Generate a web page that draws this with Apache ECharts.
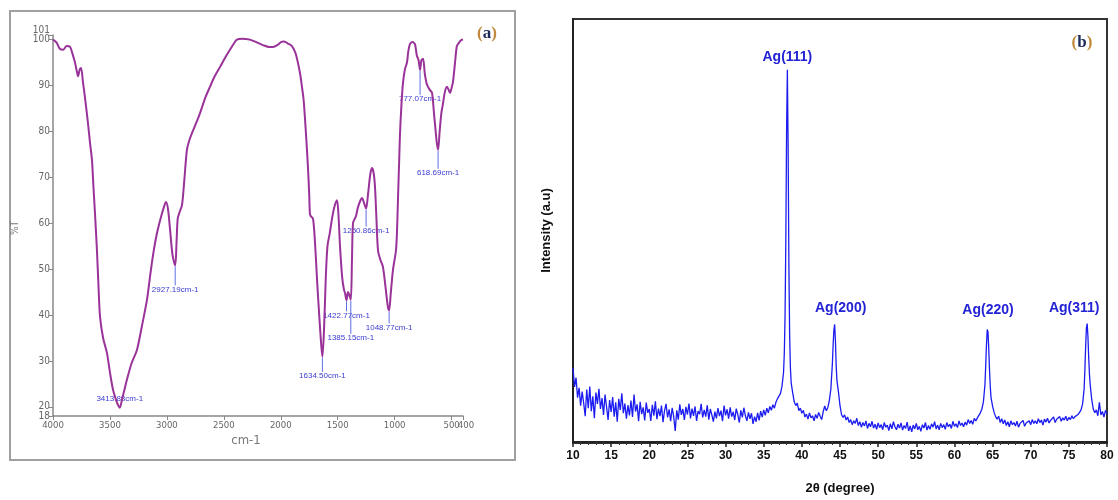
<!DOCTYPE html>
<html><head><meta charset="utf-8">
<script src="https://cdn.jsdelivr.net/npm/echarts/dist/echarts.min.js"></script>
<style>html,body{margin:0;padding:0;background:#fff}#c{width:1118px;height:500px}</style>
</head><body><div id="c"></div>
<script>
// ---------- Panel (a): FTIR spectrum [wavenumber cm-1, %T] ----------
const ftirSpectrum = [
[4000,100],[3970,99.4],[3940,98],[3910,97.8],[3880,98.6],[3850,98.4],[3830,97],[3807,95],[3790,93],[3780,92],
[3765,93.5],[3754,93.8],[3737,90.8],[3715,86.5],[3693,81.8],[3675,77.5],[3658,73.8],[3645,68],[3631,62],[3614,54],
[3600,46],[3587,39.6],[3560,35],[3526,31.7],[3500,27.5],[3473,23.7],[3445,21.4],[3429,20.4],[3413.88,19.8],[3395,21.5],
[3370,24],[3350,26],[3310,29.5],[3263,32.4],[3220,37.5],[3175,43.3],[3150,48],[3122,53],[3090,57.5],[3050,61.5],
[3020,64],[3008,64.6],[2990,63],[2970,58],[2950,53],[2927.19,50.8],[2915,56],[2905,61],[2890,62.3],[2867,64],
[2845,70],[2824,76],[2800,78.3],[2780,79.6],[2740,82],[2709,84],[2660,87.5],[2622,89.7],[2580,92],[2534,94],
[2490,96],[2446,97.8],[2410,99.2],[2385,100],[2340,100.2],[2300,100.1],[2270,100],[2220,99.5],[2156,98.8],[2100,98.4],
[2068,98.4],[2030,98.8],[1995,99.5],[1975,99.6],[1940,99.2],[1902,98.6],[1870,97],[1849,94.9],[1830,92.5],[1814,89.7],
[1800,87],[1788,83],[1775,78],[1761,72],[1750,66],[1744,62],[1735,61.5],[1717,61],[1700,56],[1680,47],
[1660,39],[1645,33.5],[1634.5,30.9],[1620,37],[1605,48],[1590,55],[1570,57.8],[1550,61],[1530,63.5],[1507,65],
[1495,62.5],[1480,55],[1460,48],[1445,45.5],[1436,44.8],[1422.77,43.2],[1410,45],[1400,44.5],[1385.15,43.3],[1375,52],
[1366,60],[1350,61],[1340,61.5],[1322,63.5],[1300,65],[1287,65.5],[1270,64.5],[1250.86,63.2],[1235,66],[1215,70.5],
[1200,72],[1185,71],[1173,68],[1160,61],[1146,54],[1125,52],[1103,50.5],[1080,46],[1059,41.7],[1048.77,41],
[1035,44.5],[1015,49.8],[989,54],[980,57.9],[970,66],[960,74],[953,79.6],[940,86],[927,90.5],[910,93.5],
[892,95],[880,97.5],[866,99],[845,99.5],[822,99],[805,96.5],[790,95.5],[777.07,93.4],[765,95.5],[751,95.8],
[735,92.5],[720,90.5],[707,89.7],[690,89],[672,88.4],[655,84],[640,80],[630,77.5],[618.69,76],[605,80],
[590,84],[576,86],[560,88.5],[541,89.7],[525,89],[514,88.4],[500,89.5],[488,90.8],[470,95],[455,98.5],
[444,99],[420,99.8],[400,100]
];
const ftirPeakWavenumbers = [3413.88, 2927.19, 1634.50, 1422.77, 1385.15, 1250.86, 1048.77, 777.07, 618.69];
const ftirPeakTransmittance = [19.8, 50.8, 30.9, 43.2, 43.3, 63.2, 41, 93.4, 76];
const ftirPeakLabels = ['3413.88cm-1','2927.19cm-1','1634.50cm-1','1422.77cm-1','1385.15cm-1','1250.86cm-1','1048.77cm-1','777.07cm-1','618.69cm-1'];
const ftirXTicksMain = [4000, 3500, 3000, 2500, 2000, 1500, 1000, 500];
const ftirXTicksEnd = [400];
const ftirYTicksMain = [20, 30, 40, 50, 60, 70, 80, 90, 100];
const ftirYTicksLow = [18];
const ftirYTicksHigh = [101];

// ---------- Panel (b): XRD pattern [2theta degree, intensity a.u.] ----------
const xrdPattern = [
[10.0,17.5],[10.2,13.0],[10.4,15.2],[10.6,10.5],[10.8,12.8],[11.0,8.6],[11.2,11.9],[11.4,9.2],[11.6,6.1],[11.8,12.4],
[12.0,8.0],[12.2,13.1],[12.4,7.3],[12.6,10.8],[12.8,5.6],[13.0,11.7],[13.2,9.0],[13.4,12.6],[13.6,7.8],[13.8,10.4],
[14.0,6.4],[14.2,11.2],[14.4,8.3],[14.6,5.2],[14.8,9.9],[15.0,7.1],[15.2,10.6],[15.4,6.0],[15.6,9.4],[15.8,4.8],
[16.0,10.2],[16.2,7.6],[16.4,11.5],[16.6,6.8],[16.8,9.1],[17.0,5.5],[17.2,8.7],[17.4,6.3],[17.6,9.8],[17.8,5.9],
[18.0,11.2],[18.2,7.2],[18.4,8.9],[18.6,4.9],[18.8,9.5],[19.0,6.6],[19.2,8.2],[19.4,5.1],[19.6,9.3],[19.8,6.9],
[20.0,7.8],[20.2,5.0],[20.4,8.8],[20.6,6.2],[20.8,9.6],[21.0,5.4],[21.2,7.9],[21.4,6.1],[21.6,8.6],[21.8,4.7],
[22.0,7.4],[22.2,9.0],[22.4,5.8],[22.6,7.7],[22.8,4.9],[23.0,8.1],[23.2,6.0],[23.4,2.6],[23.6,7.5],[23.8,5.3],
[24.0,8.9],[24.2,6.4],[24.4,7.8],[24.6,5.2],[24.8,8.3],[25.0,6.5],[25.2,9.1],[25.4,5.6],[25.6,7.9],[25.8,6.2],
[26.0,8.4],[26.2,5.0],[26.4,7.3],[26.6,6.6],[26.8,9.0],[27.0,5.8],[27.2,7.6],[27.4,6.0],[27.6,8.7],[27.8,5.3],
[28.0,7.8],[28.2,6.4],[28.4,4.8],[28.6,7.2],[28.8,5.6],[29.0,8.0],[29.2,6.1],[29.4,7.4],[29.6,4.9],[29.8,8.6],
[30.0,6.3],[30.2,7.7],[30.4,5.5],[30.6,8.2],[30.8,6.0],[31.0,7.1],[31.2,5.2],[31.4,7.9],[31.6,6.5],[31.8,4.6],
[32.0,7.5],[32.2,5.8],[32.4,8.1],[32.6,6.2],[32.8,5.0],[33.0,7.0],[33.2,5.5],[33.4,6.8],[33.6,4.3],[33.8,6.0],
[34.0,4.8],[34.2,6.9],[34.4,5.1],[34.6,7.3],[34.8,5.9],[35.0,7.6],[35.2,6.3],[35.4,8.0],[35.6,6.9],[35.8,8.4],
[36.0,7.5],[36.2,8.8],[36.4,8.0],[36.6,9.4],[36.8,10.2],[37.0,10.0],[37.2,11.5],[37.4,13.2],[37.6,16.5],[37.7,21],
[37.8,30],[37.9,48],[38.0,74],[38.1,88],[38.2,70],[38.3,42],[38.4,25],[38.5,17.5],[38.6,14.0],[38.8,11.6],
[39.0,9.5],[39.2,8.6],[39.4,9.2],[39.6,7.4],[39.8,8.0],[40.0,6.8],[40.2,7.5],[40.4,5.9],[40.6,6.6],[40.8,5.4],
[41.0,6.9],[41.2,5.7],[41.4,6.2],[41.6,5.0],[41.8,6.5],[42.0,5.6],[42.2,7.0],[42.4,6.1],[42.6,5.3],[42.8,7.2],
[43.0,8.5],[43.2,7.4],[43.4,8.1],[43.6,9.8],[43.8,12.5],[44.0,18.5],[44.1,23],[44.2,26.5],[44.3,27.8],[44.4,24],
[44.5,18],[44.6,14.5],[44.8,11.8],[45.0,8.6],[45.2,6.5],[45.4,5.8],[45.6,6.4],[45.8,5.2],[46.0,5.9],[46.2,4.6],
[46.4,5.3],[46.6,4.1],[46.8,5.0],[47.0,4.4],[47.2,5.6],[47.4,3.9],[47.6,4.8],[47.8,3.5],[48.0,4.6],[48.2,3.8],
[48.4,5.0],[48.6,3.2],[48.8,4.4],[49.0,3.6],[49.2,4.9],[49.4,3.3],[49.6,4.2],[49.8,3.0],[50.0,4.5],[50.2,3.4],
[50.4,4.1],[50.6,2.9],[50.8,4.6],[51.0,3.5],[51.2,4.0],[51.4,2.7],[51.6,4.3],[51.8,3.1],[52.0,4.8],[52.2,3.6],
[52.4,2.9],[52.6,4.2],[52.8,3.3],[53.0,4.5],[53.2,2.8],[53.4,3.9],[53.6,3.2],[53.8,4.7],[54.0,2.6],[54.2,3.8],
[54.4,2.4],[54.6,4.0],[54.8,3.1],[55.0,4.4],[55.2,2.9],[55.4,3.7],[55.6,2.5],[55.8,4.1],[56.0,3.3],[56.2,4.6],
[56.4,2.8],[56.6,3.9],[56.8,3.0],[57.0,4.3],[57.2,3.5],[57.4,4.8],[57.6,3.1],[57.8,4.0],[58.0,2.9],[58.2,4.4],
[58.4,3.4],[58.6,4.1],[58.8,3.0],[59.0,4.6],[59.2,3.6],[59.4,4.2],[59.6,3.2],[59.8,4.9],[60.0,3.7],[60.2,4.3],
[60.4,3.4],[60.6,5.0],[60.8,3.9],[61.0,4.5],[61.2,3.6],[61.4,4.7],[61.6,4.0],[61.8,5.3],[62.0,4.4],[62.2,5.1],
[62.4,4.2],[62.6,5.6],[62.8,5.0],[63.0,5.4],[63.2,6.3],[63.4,6.9],[63.6,7.8],[63.8,9.5],[64.0,13.5],[64.1,18],
[64.2,23],[64.3,26.6],[64.4,26.0],[64.5,22],[64.6,17],[64.7,13],[64.8,10.5],[65.0,8.5],[65.2,7.0],[65.4,6.0],
[65.6,5.4],[65.8,6.1],[66.0,4.6],[66.2,5.5],[66.4,4.3],[66.6,5.2],[66.8,3.9],[67.0,4.8],[67.2,3.6],[67.4,5.0],
[67.6,4.1],[67.8,4.6],[68.0,3.8],[68.2,4.9],[68.4,3.5],[68.6,4.4],[68.8,4.0],[69.0,5.1],[69.2,3.7],[69.4,4.5],
[69.6,4.2],[69.8,5.0],[70.0,4.1],[70.2,5.3],[70.4,4.4],[70.6,5.0],[70.8,4.3],[71.0,5.5],[71.2,4.6],[71.4,5.2],
[71.6,4.0],[71.8,5.4],[72.0,4.7],[72.2,5.6],[72.4,4.5],[72.6,5.1],[72.8,4.8],[73.0,5.9],[73.2,4.6],[73.4,5.4],
[73.6,5.0],[73.8,6.0],[74.0,4.9],[74.2,5.7],[74.4,5.2],[74.6,6.1],[74.8,5.0],[75.0,5.8],[75.2,5.3],[75.4,6.2],
[75.6,5.5],[75.8,6.0],[76.0,5.6],[76.2,6.5],[76.4,7.0],[76.6,7.6],[76.8,9.0],[77.0,12.5],[77.1,17],[77.2,22.5],
[77.3,27],[77.4,28],[77.5,25],[77.6,20],[77.7,16],[77.8,13.5],[78.0,10.0],[78.2,7.8],[78.4,6.9],[78.6,7.6],
[78.8,6.2],[79.0,9.4],[79.2,6.4],[79.4,7.2],[79.6,5.9],[79.8,7.5],[80.0,6.6]
];
const xrdPeakAngles = [38.1, 44.3, 64.4, 77.4];
const xrdPeakIntensity = [88, 27.8, 26.6, 28];
const xrdPeakLabels = ['Ag(111)', 'Ag(200)', 'Ag(220)', 'Ag(311)'];

// ---------- styling (not data) ----------
const ftirDrop = [-9, 24, 19, 15, 38, 22, 17, 29, 23];    // px offset of label from the minimum
const xrdLabelShift = [[0,-13],[6,-16],[0,-19],[-13,-15]];

const chart = echarts.init(document.getElementById('c'), null, {renderer: 'canvas'});
const grayTxt = '#666';
const narrow = '"Liberation Sans Narrow", "DejaVu Sans Condensed", "Liberation Sans", Arial, sans-serif';
const plain = v => String(v);

function ftirX(ticks, main, pad) {
  return {gridIndex: 0, type: 'value', min: 400, max: 4000, inverse: true, position: 'bottom',
    axisLine: {show: main, onZero: false, lineStyle: {color: '#888', width: 1.5}},
    axisTick: {show: true, length: 4, lineStyle: {color: '#888'}, customValues: ticks},
    axisLabel: {customValues: ticks, formatter: plain, color: grayTxt, fontSize: 9.5, fontFamily: narrow, margin: 5,
      padding: pad || 0},
    splitLine: {show: false}};
}
function ftirY(ticks, main, vAlign) {
  return {gridIndex: 0, type: 'value', min: 18, max: 101, position: 'left',
    axisLine: {show: main, onZero: false, lineStyle: {color: '#888', width: 1.5}},
    axisTick: {show: true, length: 4, lineStyle: {color: '#888'}, customValues: ticks},
    axisLabel: {customValues: ticks, formatter: plain, color: grayTxt, fontSize: 10, fontFamily: narrow, margin: 3,
      verticalAlign: vAlign || 'middle'},
    splitLine: {show: false}};
}

const option = {
  animation: false,
  backgroundColor: '#fff',
  grid: [
    {left: 53, top: 35, width: 410, height: 381},
    {left: 573, top: 19, width: 534, height: 424}
  ],
  xAxis: [
    ftirX(ftirXTicksMain, true),
    {gridIndex: 1, type: 'value', min: 10, max: 80, interval: 5,
     axisLine: {lineStyle: {color: '#222', width: 2}},
     axisTick: {show: true, length: 5, lineStyle: {color: '#222', width: 1.5}},
     minorTick: {show: true, splitNumber: 5, length: 3, lineStyle: {color: '#333'}},
     axisLabel: {color: '#111', fontSize: 12, fontWeight: 'bold', fontFamily: 'Arial, "Liberation Sans", sans-serif', margin: 8},
     splitLine: {show: false},
     name: '2θ (degree)', nameLocation: 'middle', nameGap: 40,
     nameTextStyle: {color: '#111', fontSize: 13, fontWeight: 'bold', fontFamily: 'Arial, "Liberation Sans", sans-serif'}},
    ftirX(ftirXTicksEnd, false, [0, 0, 0, 6])
  ],
  yAxis: [
    ftirY(ftirYTicksMain, true),
    {gridIndex: 1, type: 'value', min: 0, max: 100,
     axisLine: {show: true, lineStyle: {color: '#222', width: 2}},
     axisTick: {show: false}, axisLabel: {show: false}, splitLine: {show: false},
     name: 'Intensity (a.u)', nameLocation: 'middle', nameGap: 20, nameRotate: 90,
     nameTextStyle: {color: '#111', fontSize: 13, fontWeight: 'bold', fontFamily: 'Arial, "Liberation Sans", sans-serif'}},
    ftirY(ftirYTicksLow, false, 'middle'),
    ftirY(ftirYTicksHigh, false, 'bottom')
  ],
  series: [
    {type: 'line', xAxisIndex: 0, yAxisIndex: 0, data: ftirSpectrum, showSymbol: false,
     smooth: 0.3, lineStyle: {color: '#993399', width: 2}, silent: true},
    {type: 'custom', xAxisIndex: 0, yAxisIndex: 0, clip: false, silent: true,
     data: ftirPeakWavenumbers.map((w, i) => [w, ftirPeakTransmittance[i]]),
     renderItem: function (params, api) {
       const p = api.coord([api.value(0), api.value(1)]);
       const d = ftirDrop[params.dataIndex];
       const children = [];
       if (d > 0) {
         children.push({type: 'line', shape: {x1: p[0], y1: p[1] + 1, x2: p[0], y2: p[1] + d - 4},
           style: {stroke: '#5b6ee0', lineWidth: 1}});
       }
       children.push({type: 'text', x: p[0], y: p[1] + d,
         style: {text: ftirPeakLabels[params.dataIndex], fill: '#3a3ad0', fontSize: 8,
           fontFamily: 'Arial, "Liberation Sans", sans-serif', align: 'center', verticalAlign: 'middle'}});
       return {type: 'group', children: children};
     }},
    {type: 'line', xAxisIndex: 1, yAxisIndex: 1, data: xrdPattern, showSymbol: false,
     lineStyle: {color: '#1c1cf0', width: 1.3}, silent: true},
    {type: 'custom', xAxisIndex: 1, yAxisIndex: 1, clip: false, silent: true,
     data: xrdPeakAngles.map((a, i) => [a, xrdPeakIntensity[i]]),
     renderItem: function (params, api) {
       const p = api.coord([api.value(0), api.value(1)]);
       const s = xrdLabelShift[params.dataIndex];
       return {type: 'text', x: p[0] + s[0], y: p[1] + s[1],
         style: {text: xrdPeakLabels[params.dataIndex], fill: '#2323d6', fontSize: 14, fontWeight: 'bold',
           fontFamily: 'Arial, "Liberation Sans", sans-serif', align: 'center', verticalAlign: 'middle'}};
     }}
  ],
  graphic: [
    {type: 'rect', shape: {x: 10, y: 11, width: 505, height: 449}, style: {fill: 'none', stroke: '#a0a0a0', lineWidth: 2}, silent: true},
    {type: 'rect', shape: {x: 573, y: 19, width: 534, height: 424}, style: {fill: 'none', stroke: '#333', lineWidth: 2}, silent: true},
    {type: 'text', x: 15, y: 228, rotation: Math.PI / 2, style: {text: '%T', fill: '#777', fontSize: 10, fontFamily: narrow, align: 'center', verticalAlign: 'middle'}},
    {type: 'text', x: 246, y: 441, style: {text: 'cm-1', fill: '#777', fontSize: 13, fontFamily: narrow, align: 'center', verticalAlign: 'middle'}},
    {type: 'text', x: 487, y: 34, style: {
      text: '{p|(}{l|a}{p|)}', align: 'center', verticalAlign: 'middle',
      rich: {p: {fill: '#c08a3a', fontSize: 17, fontFamily: '"Liberation Serif", "DejaVu Serif", serif', fontWeight: 'bold'},
             l: {fill: '#1d2b5a', fontSize: 17, fontFamily: '"Liberation Serif", "DejaVu Serif", serif', fontWeight: 'bold'}}}},
    {type: 'text', x: 1082, y: 43, style: {
      text: '{p|(}{l|b}{p|)}', align: 'center', verticalAlign: 'middle',
      rich: {p: {fill: '#c08a3a', fontSize: 17, fontFamily: '"Liberation Serif", "DejaVu Serif", serif', fontWeight: 'bold'},
             l: {fill: '#1d2b5a', fontSize: 17, fontFamily: '"Liberation Serif", "DejaVu Serif", serif', fontWeight: 'bold'}}}}
  ]
};
chart.setOption(option);
</script>
</body></html>
